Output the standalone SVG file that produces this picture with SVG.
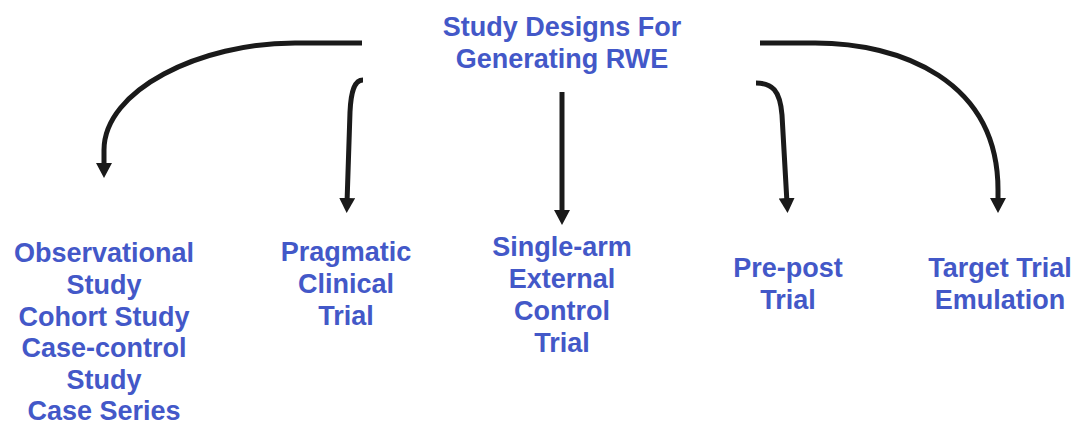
<svg xmlns="http://www.w3.org/2000/svg" width="1075" height="423" viewBox="0 0 1075 423">
  <style>
    .label { font-family: "Liberation Sans", Arial, sans-serif; font-weight: bold; font-size: 27px; fill: #4358C8; text-anchor: middle; }
    .conn { fill: none; stroke: #1a1a1a; stroke-width: 5; marker-end: url(#head); }
  </style>
  <defs>
    <marker id="head" markerUnits="userSpaceOnUse" viewBox="0 0 15 16" markerWidth="15" markerHeight="16" refX="5" refY="8" orient="auto">
      <path d="M0,0 L15,8 L0,16 z" fill="#1a1a1a"/>
    </marker>
  </defs>
  <rect width="1075" height="423" fill="#ffffff"/>

  <g id="root">
    <text class="label" x="562" y="36">Study Designs For</text>
    <text class="label" x="562" y="68">Generating RWE</text>
  </g>

  <g id="connectors">
    <path class="conn" d="M362,43 H295 C200,43 104,90 104,150 L104,168"/>
    <path class="conn" d="M363,80 C355,80 351,90 350,112 L347,203"/>
    <path class="conn" d="M562,92 V215"/>
    <path class="conn" d="M756,83 C772,83 780,90 782,115 L787,203"/>
    <path class="conn" d="M760,43 H815 C900,43 998,80 998,190 L998,203"/>
  </g>

  <g id="observational">
    <text class="label" x="104" y="262">Observational</text>
    <text class="label" x="104" y="294">Study</text>
    <text class="label" x="104" y="326">Cohort Study</text>
    <text class="label" x="104" y="357">Case-control</text>
    <text class="label" x="104" y="389">Study</text>
    <text class="label" x="104" y="420">Case Series</text>
  </g>

  <g id="pragmatic">
    <text class="label" x="346" y="261">Pragmatic</text>
    <text class="label" x="346" y="293">Clinical</text>
    <text class="label" x="346" y="325">Trial</text>
  </g>

  <g id="single-arm">
    <text class="label" x="562" y="256">Single-arm</text>
    <text class="label" x="562" y="288">External</text>
    <text class="label" x="562" y="320">Control</text>
    <text class="label" x="562" y="352">Trial</text>
  </g>

  <g id="pre-post">
    <text class="label" x="788" y="277">Pre-post</text>
    <text class="label" x="788" y="309">Trial</text>
  </g>

  <g id="target-trial">
    <text class="label" x="1000" y="277">Target Trial</text>
    <text class="label" x="1000" y="309">Emulation</text>
  </g>
</svg>
